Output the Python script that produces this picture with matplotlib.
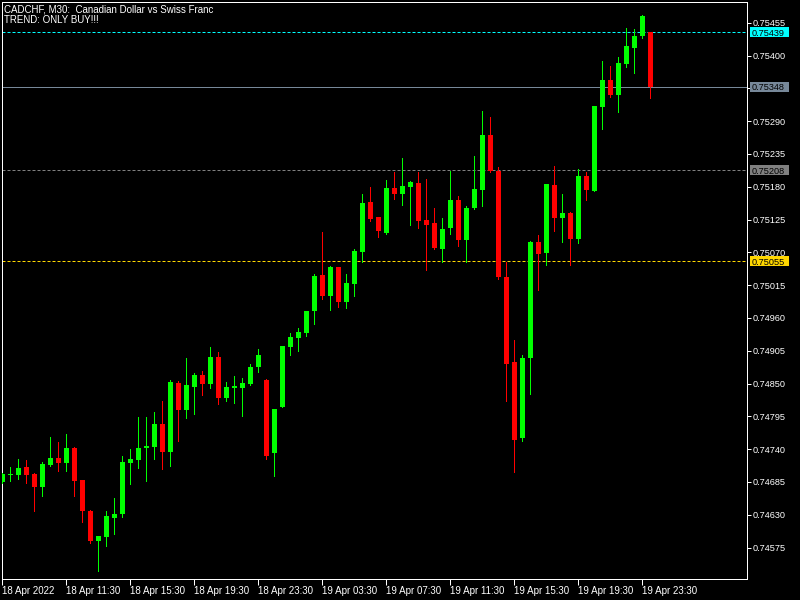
import numpy as np
import matplotlib
matplotlib.use("Agg")
import matplotlib.pyplot as plt
from matplotlib.patches import Rectangle
from matplotlib.transforms import blended_transform_factory, offset_copy

# ---- data (CADCHF M30) ----
opens = [0.74685, 0.74696, 0.74697, 0.74710, 0.74698, 0.74677, 0.74714, 0.74725, 0.74717, 0.74742,
         0.74688, 0.74636, 0.74586, 0.74593, 0.74625, 0.74632, 0.74717, 0.74721, 0.74742, 0.74744,
         0.74782, 0.74736, 0.74851, 0.74805, 0.74845, 0.74864, 0.74850, 0.74895, 0.74826, 0.74843,
         0.74843, 0.74850, 0.74877, 0.74856, 0.74734, 0.74811, 0.74912, 0.74927, 0.74935, 0.74971,
         0.75032, 0.74996, 0.75045, 0.74987, 0.75017, 0.75071, 0.75154, 0.75129, 0.75103, 0.75178,
         0.75167, 0.75180, 0.75186, 0.75124, 0.75119, 0.75076, 0.75110, 0.75158, 0.75091, 0.75145,
         0.75175, 0.75267, 0.75207, 0.75029, 0.74886, 0.74758, 0.74892, 0.75087, 0.75069, 0.75183,
         0.75128, 0.75136, 0.75093, 0.75198, 0.75173, 0.75313, 0.75359, 0.75334, 0.75386, 0.75413,
         0.75432, 0.75439]
highs = [0.74700, 0.74710, 0.74724, 0.74722, 0.74700, 0.74718, 0.74760, 0.74752, 0.74765, 0.74744,
         0.74689, 0.74638, 0.74594, 0.74636, 0.74658, 0.74729, 0.74740, 0.74794, 0.74794, 0.74802,
         0.74821, 0.74856, 0.74854, 0.74893, 0.74868, 0.74871, 0.74911, 0.74903, 0.74853, 0.74863,
         0.74859, 0.74883, 0.74908, 0.74857, 0.74807, 0.74913, 0.74935, 0.74943, 0.74972, 0.75034,
         0.75104, 0.75047, 0.75046, 0.75034, 0.75076, 0.75168, 0.75180, 0.75130, 0.75191, 0.75205,
         0.75228, 0.75190, 0.75205, 0.75193, 0.75144, 0.75128, 0.75206, 0.75165, 0.75148, 0.75232,
         0.75307, 0.75297, 0.75213, 0.75054, 0.74923, 0.74898, 0.75089, 0.75099, 0.75185, 0.75215,
         0.75168, 0.75138, 0.75210, 0.75205, 0.75315, 0.75391, 0.75383, 0.75398, 0.75446, 0.75445,
         0.75468, 0.75439]
lows = [0.74683, 0.74687, 0.74690, 0.74683, 0.74637, 0.74662, 0.74712, 0.74704, 0.74704, 0.74662,
        0.74617, 0.74583, 0.74535, 0.74578, 0.74598, 0.74627, 0.74682, 0.74709, 0.74687, 0.74724,
        0.74707, 0.74711, 0.74754, 0.74793, 0.74799, 0.74831, 0.74843, 0.74815, 0.74820, 0.74818,
        0.74796, 0.74848, 0.74870, 0.74724, 0.74695, 0.74811, 0.74897, 0.74905, 0.74929, 0.74949,
        0.74991, 0.74974, 0.74979, 0.74976, 0.74996, 0.75054, 0.75123, 0.75096, 0.75100, 0.75160,
        0.75150, 0.75116, 0.75110, 0.75041, 0.75076, 0.75054, 0.75101, 0.75080, 0.75054, 0.75142,
        0.75148, 0.75205, 0.75026, 0.74821, 0.74702, 0.74753, 0.74833, 0.75007, 0.75048, 0.75106,
        0.75088, 0.75049, 0.75086, 0.75157, 0.75173, 0.75276, 0.75331, 0.75306, 0.75381, 0.75371,
        0.75430, 0.75328]
closes = [0.74698, 0.74698, 0.74708, 0.74697, 0.74677, 0.74715, 0.74725, 0.74717, 0.74742, 0.74687,
          0.74637, 0.74586, 0.74594, 0.74628, 0.74631, 0.74718, 0.74724, 0.74742, 0.74745, 0.74782,
          0.74736, 0.74853, 0.74806, 0.74848, 0.74864, 0.74850, 0.74895, 0.74826, 0.74844, 0.74846,
          0.74851, 0.74878, 0.74898, 0.74729, 0.74807, 0.74913, 0.74928, 0.74936, 0.74972, 0.75030,
          0.74996, 0.75045, 0.74986, 0.75019, 0.75072, 0.75153, 0.75126, 0.75105, 0.75178, 0.75167,
          0.75181, 0.75188, 0.75123, 0.75116, 0.75078, 0.75109, 0.75158, 0.75091, 0.75144, 0.75176,
          0.75267, 0.75207, 0.75028, 0.74883, 0.74756, 0.74893, 0.75087, 0.75068, 0.75185, 0.75128,
          0.75136, 0.75093, 0.75198, 0.75175, 0.75315, 0.75359, 0.75334, 0.75388, 0.75416, 0.75433,
          0.75466, 0.75348]

price_ticks = [0.74575, 0.74630, 0.74685, 0.74740, 0.74795, 0.74850, 0.74905, 0.74960, 0.75015,
               0.75070, 0.75125, 0.75180, 0.75235, 0.75290, 0.75345, 0.75400, 0.75455]
time_labels = ["18 Apr 2022", "18 Apr 11:30", "18 Apr 15:30", "18 Apr 19:30", "18 Apr 23:30",
               "19 Apr 03:30", "19 Apr 07:30", "19 Apr 11:30", "19 Apr 15:30", "19 Apr 19:30",
               "19 Apr 23:30"]
label_every = 8

hlines = [  # price, colour, style
    (0.75439, "#00FFFF", "dashed"),
    (0.75348, "#778899", "solid"),
    (0.75208, "#808080", "dashed"),
    (0.75055, "#FFD700", "dashed"),
]

title_lines = ["CADCHF, M30:  Canadian Dollar vs Swiss Franc", "TREND: ONLY BUY!!!"]

# ---- drawing ----
FONT = "Liberation Sans"
px = 0.72  # one pixel in points at 100 dpi
W, H = 800, 600
AX_L, AX_R, AX_T, AX_B = 2, 747, 2, 579

fig = plt.figure(figsize=(8, 6), dpi=100, facecolor="black")
ax = fig.add_axes([AX_L / W, 1 - AX_B / H, (AX_R - AX_L) / W, (AX_B - AX_T) / H], facecolor="black")

o = np.array(opens); h = np.array(highs); l = np.array(lows); c = np.array(closes)
x = np.arange(len(o))
up = c >= o
cols = np.where(up, "#00FF00", "#FF0000")

ax.vlines(x, l, h, colors=cols, linewidth=px, antialiased=False, zorder=3)
bottoms = np.minimum(o, c)
heights = np.maximum(np.abs(c - o), 0.000012)
ax.bar(x, heights, bottom=bottoms, width=0.625, color=cols, linewidth=0, zorder=4)

for price, col, ls in hlines:
    if ls == "dashed":
        ax.axhline(price, color=col, linewidth=px, linestyle=(0, (3, 2)), zorder=2)
    else:
        ax.axhline(price, color=col, linewidth=px, zorder=2)

ax.set_xlim(-0.04, 93.09)
ax.set_ylim(0.745222, 0.754898)

for s in ax.spines.values():
    s.set_color("white")
    s.set_linewidth(px)

ax.yaxis.tick_right()
ax.set_yticks(price_ticks)
ylabels = ["" if abs(p - 0.75345) < 1e-7 else f"{p:.5f}" for p in price_ticks]
ax.set_yticklabels(ylabels)
ax.tick_params(axis="y", colors="white", direction="out", length=3, width=px, pad=1,
               labelsize=6.6, labelcolor="white")
ax.set_xticks(np.arange(0, len(time_labels) * label_every, label_every))
ax.set_xticklabels(time_labels)
ax.tick_params(axis="x", colors="white", direction="out", length=4, width=px, pad=1,
               labelsize=7, labelcolor="white")
for t in ax.get_xticklabels() + ax.get_yticklabels():
    t.set_fontfamily(FONT)
for t in ax.get_xticklabels():
    t.set_ha("left")

# price boxes on the right scale (fixed pixel size: 39 x 10 px)
trans = blended_transform_factory(ax.transAxes, ax.transData)
ax_w = AX_R - AX_L
y0, y1 = ax.get_ylim()
px_price = (y1 - y0) / (AX_B - AX_T)
text_trans = offset_copy(trans, fig=fig, x=0, y=-0.7, units="points")
for price, col, ls in hlines:
    rect = Rectangle((1 + 3 / ax_w, price - 5 * px_price), 39 / ax_w, 10 * px_price,
                     transform=trans, facecolor=col, edgecolor="none", clip_on=False, zorder=9)
    ax.add_patch(rect)
    ax.text(1 + 5 / ax_w, price, f"{price:.5f}", transform=text_trans, fontsize=6.6, family=FONT,
            color="black", va="center", ha="left", clip_on=False, zorder=10)

for i, line in enumerate(title_lines):
    fig.text(4 / W, 1 - (9 + 11 * i) / H, line, color="white", fontsize=7, family=FONT,
             va="center", ha="left")

fig.savefig("out.png", dpi=100, facecolor="black")
